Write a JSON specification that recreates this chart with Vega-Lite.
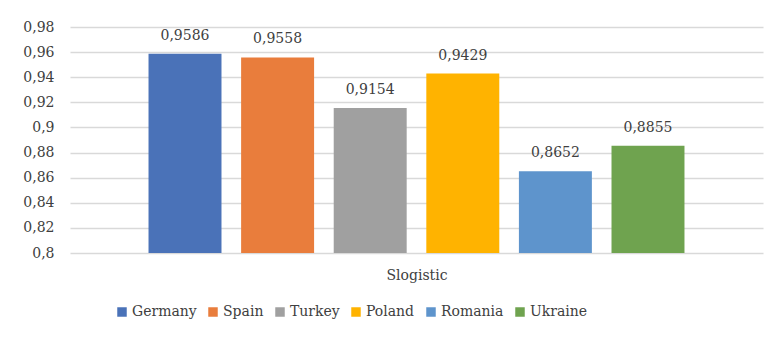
{
  "$schema": "https://vega.github.io/schema/vega-lite/v6.json",
  "width": 693,
  "height": 226,
  "autosize": "none",
  "padding": {"left": 70, "top": 27, "right": 10, "bottom": 84},
  "background": "white",
  "config": {
    "view": {"stroke": null},
    "font": "DejaVu Serif"
  },
  "data": {
    "values": [
      {"group": "Slogistic", "country": "Germany", "value": 0.9586},
      {"group": "Slogistic", "country": "Spain", "value": 0.9558},
      {"group": "Slogistic", "country": "Turkey", "value": 0.9154},
      {"group": "Slogistic", "country": "Poland", "value": 0.9429},
      {"group": "Slogistic", "country": "Romania", "value": 0.8652},
      {"group": "Slogistic", "country": "Ukraine", "value": 0.8855}
    ]
  },
  "encoding": {
    "x": {
      "field": "country",
      "type": "nominal",
      "sort": ["Germany", "Spain", "Turkey", "Poland", "Romania", "Ukraine"],
      "scale": {"paddingInner": 0.212, "paddingOuter": 0.848},
      "axis": {
        "title": "Slogistic",
        "labels": false,
        "ticks": false,
        "domain": false,
        "titleFont": "DejaVu Serif",
        "titleFontSize": 14,
        "titleFontWeight": "normal",
        "titleColor": "#404040",
        "titlePadding": 15
      }
    },
    "y": {
      "field": "value",
      "type": "quantitative",
      "scale": {"domain": [0.8, 0.98], "zero": false, "nice": false},
      "axis": {
        "title": null,
        "values": [0.8, 0.82, 0.84, 0.86, 0.88, 0.9, 0.92, 0.94, 0.96, 0.98],
        "labelExpr": "replace(format(datum.value, '.2~f'), '.', ',')",
        "labelFont": "DejaVu Serif",
        "labelFontSize": 14,
        "labelColor": "#404040",
        "labelPadding": 16,
        "ticks": false,
        "domain": false,
        "grid": true,
        "gridColor": "#d9d9d9",
        "gridWidth": 1.5
      }
    }
  },
  "layer": [
    {
      "mark": {"type": "bar", "clip": true},
      "encoding": {
        "color": {
          "field": "country",
          "type": "nominal",
          "sort": ["Germany", "Spain", "Turkey", "Poland", "Romania", "Ukraine"],
          "scale": {
            "domain": ["Germany", "Spain", "Turkey", "Poland", "Romania", "Ukraine"],
            "range": ["#4a72b8", "#e97d3c", "#a0a0a0", "#ffb300", "#5e94cc", "#6fa34f"]
          },
          "legend": {
            "title": null,
            "orient": "none",
            "legendX": 45,
            "legendY": 278,
            "direction": "horizontal",
            "columns": 6,
            "symbolType": "square",
            "symbolSize": 90,
            "symbolStrokeWidth": 0,
            "labelFont": "DejaVu Serif",
            "labelFontSize": 14,
            "labelColor": "#404040",
            "labelOffset": 3,
            "columnPadding": 9
          }
        }
      }
    },
    {
      "mark": {
        "type": "text",
        "baseline": "middle",
        "dy": -18,
        "fontSize": 14,
        "color": "#404040",
        "font": "DejaVu Serif",
        "text": {"expr": "replace(format(datum.value, '.4f'), '.', ',')"}
      }
    }
  ]
}
